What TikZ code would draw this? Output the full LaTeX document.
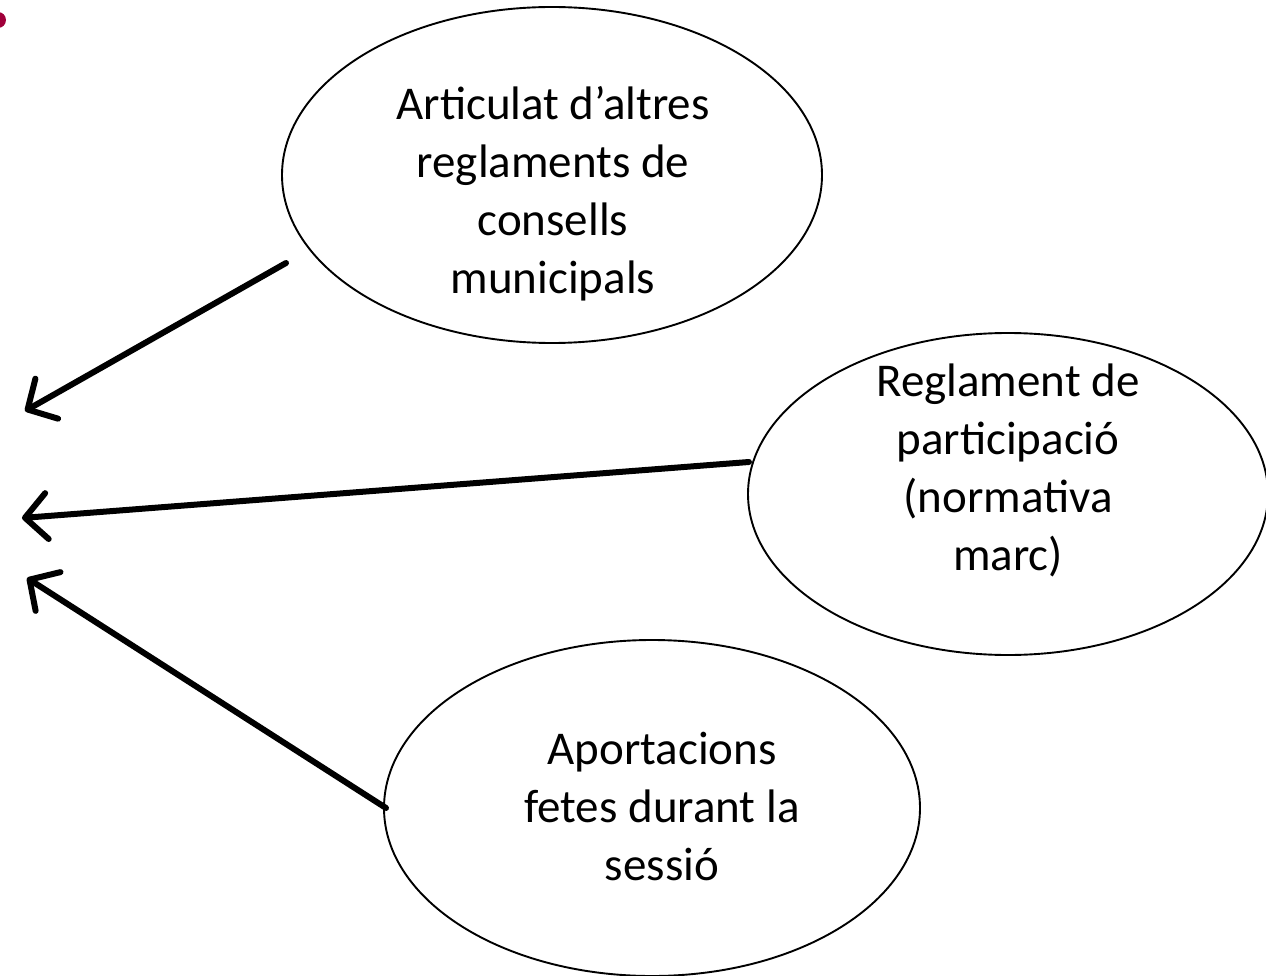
\documentclass[tikz,border=0pt]{standalone}
\usepackage{fontspec}
\setmainfont{Carlito}
\usetikzlibrary{arrows.meta,shapes.geometric}
\definecolor{dotred}{RGB}{160,0,58}
\begin{document}
\begin{tikzpicture}[x=1pt,y=-1pt,
  bubble/.style={draw=black,line width=1.9pt,ellipse,inner sep=0pt},
  lbl/.style={inner sep=0pt,align=center,font=\fontsize{47}{58}\selectfont},
  conn/.style={line width=6pt,line cap=round,-{Straight Barb[length=22pt,width=46pt,line width=6pt,line cap=round,line join=round]}}]
\useasboundingbox (0,0) rectangle (1266,976);
\fill[dotred] (-2,20) circle (8);
% ellipses
\node[bubble,minimum width=540pt,minimum height=336pt] (e1) at (552,175) {};
\node[bubble,minimum width=520pt,minimum height=322pt] (e2) at (1008,494) {};
\node[bubble,minimum width=536pt,minimum height=336pt] (e3) at (652,808) {};
% labels
\node[lbl] (t1) at (553,194) {Articulat d’altres\\reglaments de\\consells\\municipals};
\node[lbl] (t2) at (1008,470) {Reglament de\\participació\\(normativa\\marc)};
\node[lbl] (t3) at (662,806) {Aportacions\\fetes durant la\\sessió};
% arrow ends
\coordinate (s1) at (286,263);
\coordinate (s2) at (749,462);
\coordinate (s3) at (386,808);
\coordinate (a1) at (25,411);
\coordinate (a2) at (22,518);
\coordinate (a3) at (27,578);
\draw[conn] (s1) -- (a1);
\draw[conn] (s2) -- (a2);
\draw[conn] (s3) -- (a3);
\end{tikzpicture}
\end{document}
